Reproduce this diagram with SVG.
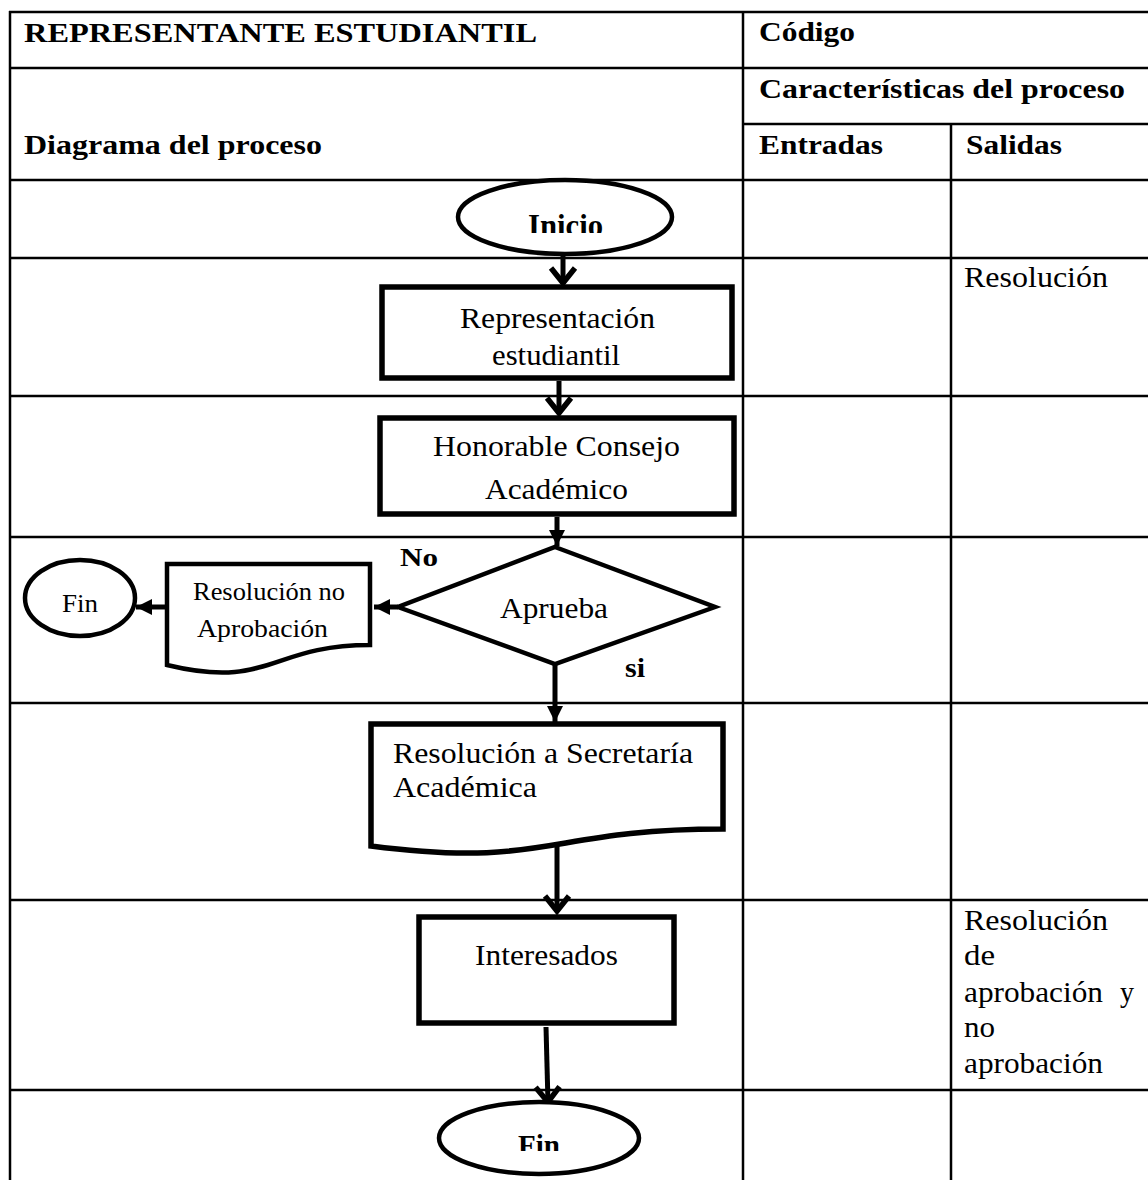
<svg xmlns="http://www.w3.org/2000/svg" width="1148" height="1180" viewBox="0 0 1148 1180" font-family="Liberation Serif, serif">
  <style>
    .grid { stroke: #000; stroke-width: 2.5; fill: none; }
    .shape { fill: #fff; stroke: #000; stroke-width: 5.5; }
    .thin { fill: #fff; stroke: #000; stroke-width: 4.5; }
    .link { stroke: #000; stroke-width: 5; fill: none; }
    text { fill: #000; }
    .hd { font-weight: bold; font-size: 28px; }
    .tx { font-size: 30px; }
    .sm { font-size: 25px; }
    .b { font-weight: bold; }
  </style>
  <defs>
    <marker id="chev" markerUnits="userSpaceOnUse" markerWidth="40" markerHeight="40" refX="0" refY="0" orient="auto" overflow="visible">
      <path d="M-16,-12 L-1,0 L-16,12" fill="none" stroke="#000" stroke-width="5.5" stroke-linejoin="miter"/>
    </marker>
    <marker id="tri" markerUnits="userSpaceOnUse" markerWidth="40" markerHeight="40" refX="0" refY="0" orient="auto" overflow="visible">
      <path d="M-16,-8 L0,0 L-16,8 Z" fill="#000"/>
    </marker>
    <clipPath id="clipInicio"><rect x="440" y="190" width="240" height="43"/></clipPath>
    <clipPath id="clipFin"><rect x="430" y="1110" width="220" height="41"/></clipPath>
  </defs>

  <rect x="0" y="0" width="1148" height="1180" fill="#fff"/>

  <!-- table grid -->
  <g id="table" class="grid">
    <line x1="9" y1="12" x2="1148" y2="12"/>
    <line x1="9" y1="68" x2="1148" y2="68"/>
    <line x1="743" y1="124" x2="1148" y2="124"/>
    <line x1="9" y1="180" x2="1148" y2="180"/>
    <line x1="9" y1="258" x2="1148" y2="258"/>
    <line x1="9" y1="396" x2="1148" y2="396"/>
    <line x1="9" y1="537" x2="1148" y2="537"/>
    <line x1="9" y1="703" x2="1148" y2="703"/>
    <line x1="9" y1="900" x2="1148" y2="900"/>
    <line x1="9" y1="1090" x2="1148" y2="1090"/>
    <line x1="10" y1="11" x2="10" y2="1180"/>
    <line x1="743" y1="11" x2="743" y2="1180"/>
    <line x1="951" y1="124" x2="951" y2="1180"/>
  </g>

  <!-- header texts -->
  <g id="header">
    <text class="hd" x="24" y="42" textLength="513" lengthAdjust="spacingAndGlyphs">REPRESENTANTE ESTUDIANTIL</text>
    <text class="hd" x="759" y="41" textLength="96" lengthAdjust="spacingAndGlyphs">Código</text>
    <text class="hd" x="759" y="98" textLength="366" lengthAdjust="spacingAndGlyphs">Características del proceso</text>
    <text class="hd" x="24" y="154" textLength="298" lengthAdjust="spacingAndGlyphs">Diagrama del proceso</text>
    <text class="hd" x="759" y="154" textLength="124" lengthAdjust="spacingAndGlyphs">Entradas</text>
    <text class="hd" x="966" y="154" textLength="96" lengthAdjust="spacingAndGlyphs">Salidas</text>
  </g>

  <!-- outputs column -->
  <g id="salidas">
    <text class="tx" x="964" y="287" textLength="144" lengthAdjust="spacingAndGlyphs">Resolución</text>
    <text class="tx" x="964" y="930" textLength="144" lengthAdjust="spacingAndGlyphs">Resolución</text>
    <text class="tx" x="964" y="965" textLength="31" lengthAdjust="spacingAndGlyphs">de</text>
    <text class="tx" x="964" y="1002" textLength="139" lengthAdjust="spacingAndGlyphs">aprobación</text>
    <text class="tx" x="1120" y="1002" textLength="14" lengthAdjust="spacingAndGlyphs">y</text>
    <text class="tx" x="964" y="1037" textLength="31" lengthAdjust="spacingAndGlyphs">no</text>
    <text class="tx" x="964" y="1073" textLength="139" lengthAdjust="spacingAndGlyphs">aprobación</text>
  </g>

  <!-- connectors -->
  <g id="connectors" class="link">
    <line x1="563" y1="254" x2="563" y2="284" marker-end="url(#chev)"/>
    <line x1="559" y1="381" x2="559" y2="414" marker-end="url(#chev)"/>
    <line x1="557" y1="517" x2="557" y2="546" marker-end="url(#tri)"/>
    <line x1="398" y1="607" x2="374" y2="607" marker-end="url(#tri)"/>
    <line x1="166" y1="607" x2="136" y2="607" marker-end="url(#tri)"/>
    <line x1="555" y1="664" x2="555" y2="722" marker-end="url(#tri)"/>
    <line x1="557" y1="840" x2="557" y2="912" marker-end="url(#chev)"/>
    <line x1="546" y1="1027" x2="548" y2="1103" marker-end="url(#chev)"/>
  </g>

  <!-- start -->
  <g id="inicio">
    <ellipse class="thin" cx="565" cy="217" rx="107" ry="37"/>
    <text class="b" x="528" y="236" font-size="32" textLength="75" lengthAdjust="spacingAndGlyphs" clip-path="url(#clipInicio)">Inicio</text>
  </g>

  <g id="representacion">
    <rect class="shape" x="382" y="287" width="350" height="91"/>
    <text class="tx" x="460" y="328" textLength="195" lengthAdjust="spacingAndGlyphs">Representación</text>
    <text class="tx" x="492" y="365" textLength="128" lengthAdjust="spacingAndGlyphs">estudiantil</text>
  </g>

  <g id="consejo">
    <rect class="shape" x="380" y="418" width="354" height="96"/>
    <text class="tx" x="433" y="456" textLength="247" lengthAdjust="spacingAndGlyphs">Honorable Consejo</text>
    <text class="tx" x="485" y="499" textLength="143" lengthAdjust="spacingAndGlyphs">Académico</text>
  </g>

  <g id="aprueba">
    <polygon class="thin" points="555,547 715,607 555,664 398,607"/>
    <text class="tx" x="500" y="618" textLength="108" lengthAdjust="spacingAndGlyphs">Aprueba</text>
    <text class="b" x="400" y="566" font-size="26" textLength="38" lengthAdjust="spacingAndGlyphs">No</text>
    <text class="b" x="625" y="677" font-size="28" textLength="20" lengthAdjust="spacingAndGlyphs">si</text>
  </g>

  <g id="no-aprobacion">
    <path class="thin" d="M167,564 H370 V645 C270,645 270,690 167,665 Z"/>
    <text class="sm" x="193" y="600" textLength="152" lengthAdjust="spacingAndGlyphs">Resolución no</text>
    <text class="sm" x="197" y="637" textLength="131" lengthAdjust="spacingAndGlyphs">Aprobación</text>
  </g>

  <g id="fin-no">
    <ellipse class="thin" cx="80" cy="598" rx="55" ry="38"/>
    <text class="sm" x="62" y="612" textLength="36" lengthAdjust="spacingAndGlyphs">Fin</text>
  </g>

  <g id="secretaria">
    <path class="shape" d="M371,724 H723 V829 C547,829 547,869 371,846 Z"/>
    <text class="tx" x="393" y="763" textLength="300" lengthAdjust="spacingAndGlyphs">Resolución a Secretaría</text>
    <text class="tx" x="393" y="797" textLength="144" lengthAdjust="spacingAndGlyphs">Académica</text>
  </g>

  <g id="interesados">
    <rect class="shape" x="419" y="917" width="255" height="106"/>
    <text class="tx" x="475" y="965" textLength="143" lengthAdjust="spacingAndGlyphs">Interesados</text>
  </g>

  <g id="fin">
    <ellipse class="thin" cx="539" cy="1138" rx="100" ry="36"/>
    <text class="b" x="518" y="1155" font-size="29" textLength="42" lengthAdjust="spacingAndGlyphs" clip-path="url(#clipFin)">Fin</text>
  </g>
</svg>
